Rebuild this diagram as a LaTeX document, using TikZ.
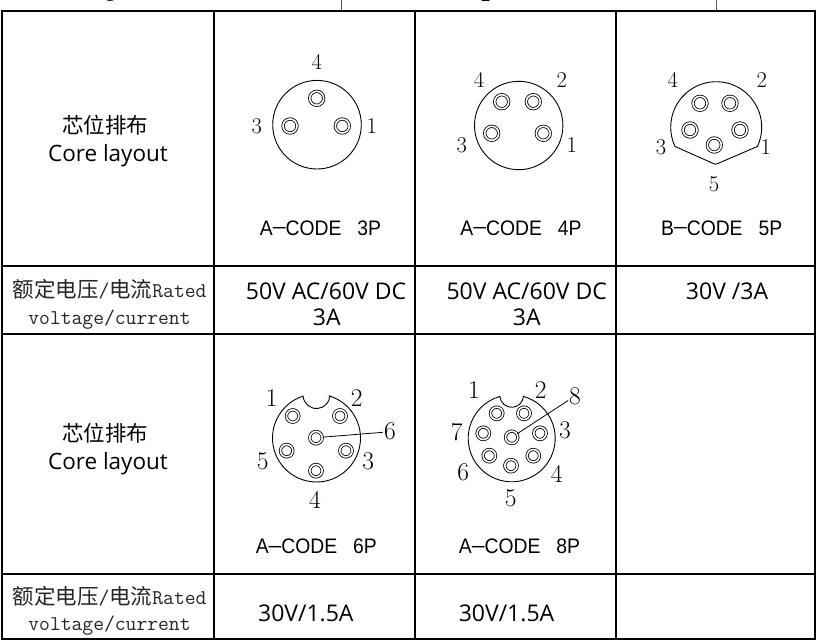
\documentclass[tikz,border=0pt]{standalone}
\usepackage{graphicx}
\usepackage{fontspec}
\newfontfamily\cjkf{Noto Sans CJK SC}
\newfontfamily\osf{Open Sans}
\newfontfamily\codef[FakeStretch=0.92]{Liberation Sans}
\newcommand{\myfs}[1]{\fontsize{#1}{#1}\selectfont}
\newcommand{\cdash}{\raisebox{0.06em}{\scalebox{0.66}[1]{—}}}
\begin{document}
\begin{tikzpicture}[x=1pt,y=-1pt,
  tbl/.style={line width=2pt, line cap=rect},
  faint/.style={line width=1pt, black!65},
  shell/.style={line width=0.9pt},
  pinA/.style={circle, draw, line width=0.8pt, double, double distance=1.6pt, minimum size=14pt, inner sep=0pt},
  pinB/.style={pinA, minimum size=12.4pt},
  numA/.style={font=\myfs{22.5}, inner sep=0pt},
  numB/.style={font=\myfs{25.5}, inner sep=0pt},
  code/.style={font=\codef\myfs{21}, anchor=base, inner sep=0pt},
  val/.style={font=\osf\myfs{23}, anchor=base, inner sep=0pt},
  hdr/.style={anchor=base, inner sep=0pt},
  hdrg/.style={hdr, text=black!85},
  lead/.style={line width=0.8pt, shorten >=1pt}]
\useasboundingbox (0,0) rectangle (816,642);
\clip (0,0) rectangle (816,642);

% partial top row
\draw[faint] (341,0) -- (341,11);
\draw[faint] (716,0) -- (716,11);
\node[font=\myfs{22}, inner sep=0pt, anchor=base] (t1) at (110,1.8) {1};
\node[font=\myfs{22}, inner sep=0pt, anchor=base] (t2) at (486,1.8) {2};

% table
\draw[tbl] (1.8,11) rectangle (814.5,639);
\draw[tbl] (214,11) -- (214,639);
\draw[tbl] (415,11) -- (415,639);
\draw[tbl] (616,11) -- (616,639);
\draw[tbl] (1.8,265.7) -- (814.5,265.7);
\draw[tbl] (1.8,334.3) -- (814.5,334.3);
\draw[tbl] (1.8,574) -- (814.5,574);

% left column
\node[hdr, font=\cjkf\myfs{21.5}] (h1a) at (105,133) {芯位排布};
\node[hdr, font=\osf\myfs{22.5}] (h1b) at (108,161) {Core layout};
\node[hdrg] (h2a) at (109.5,297) {{\cjkf\myfs{21.5}额定电压}{\ttfamily\myfs{21}/}{\cjkf\myfs{21.5}电流}{\ttfamily\myfs{21}Rated}};
\node[hdrg, font=\ttfamily\myfs{21}] (h2b) at (109.5,324) {voltage/current};
\node[hdr, font=\cjkf\myfs{21.5}] (h3a) at (105,441) {芯位排布};
\node[hdr, font=\osf\myfs{22.5}] (h3b) at (108,469) {Core layout};
\node[hdrg] (h4a) at (109.5,604) {{\cjkf\myfs{21.5}额定电压}{\ttfamily\myfs{21}/}{\cjkf\myfs{21.5}电流}{\ttfamily\myfs{21}Rated}};
\node[hdrg, font=\ttfamily\myfs{21}] (h4b) at (109.5,630) {voltage/current};

% 3P
\draw[shell] (317,124.7) circle (44.3);
\node[pinA] (a4) at (316.7,98.3) {};
\node[pinA] (a3) at (290,126) {};
\node[pinA] (a1) at (342.3,126) {};
\node[numA] (la4) at (316.7,62) {4};
\node[numA] (la3) at (256.7,126) {3};
\node[numA] (la1) at (371.7,126) {1};
\node[code] (c3) at (320.5,235) {A\cdash CODE\hspace{16pt}3P};

% 4P
\draw[shell] (518.7,125.5) circle (44.2);
\node[pinA] (b4) at (501.7,101.7) {};
\node[pinA] (b2) at (533.3,101.7) {};
\node[pinA] (b3) at (491.7,133.3) {};
\node[pinA] (b1) at (543.3,133.3) {};
\node[numA] (lb4) at (479,80) {4};
\node[numA] (lb2) at (561.7,80) {2};
\node[numA] (lb3) at (461.7,145) {3};
\node[numA] (lb1) at (571.7,145) {1};
\node[code] (c4) at (521,235) {A\cdash CODE\hspace{16pt}4P};

% 5P
\draw[shell] (716.2,127.2) ++(25:45.5) arc[start angle=25, end angle=-205, radius=45.5]
  -- (711.85,162.87) .. controls (715.5,164.5) .. (719.17,162.92) -- cycle;
\node[pinA] (e4) at (700,103.3) {};
\node[pinA] (e2) at (730,103.3) {};
\node[pinA] (e3) at (690,130) {};
\node[pinA] (e1) at (740,130) {};
\node[pinA] (e5) at (714.3,145) {};
\node[numA] (le4) at (672.7,80) {4};
\node[numA] (le2) at (761.7,80) {2};
\node[numA] (le3) at (661,147.3) {3};
\node[numA] (le1) at (765.7,147.3) {1};
\node[numA] (le5) at (714,184) {5};
\node[code] (c5) at (721.7,235) {B\cdash CODE\hspace{16pt}5P};

% values row 2
\node[val] (v3a) at (326,299) {50V AC/60V DC};
\node[val] (v3b) at (326.7,325.5) {3A};
\node[val] (v4a) at (526.7,299) {50V AC/60V DC};
\node[val] (v4b) at (526.7,325.5) {3A};
\node[val] (v5a) at (727,299) {30V /3A};

% 6P
\draw[shell] (316.5,438) ++(-72.2:44) arc[start angle=-72.2, end angle=252.2, radius=44]
  arc[start angle=175.3, end angle=4.7, radius=13.5] -- cycle;
\node[pinB] (f1) at (292.7,416) {};
\node[pinB] (f2) at (340,416) {};
\node[pinB] (f6) at (316,437.7) {};
\node[pinB] (f5) at (286.7,450.7) {};
\node[pinB] (f3) at (346,450.7) {};
\node[pinB] (f4) at (316,470.7) {};
\node[numB] (lf1) at (271.7,398.3) {1};
\node[numB] (lf2) at (356.7,398.3) {2};
\node[numB] (lf6) at (390,431.7) {6};
\node[numB] (lf5) at (262.7,461.7) {5};
\node[numB] (lf3) at (368.3,461.7) {3};
\node[numB] (lf4) at (315,500) {4};
\draw[lead] (f6) -- (lf6);
\node[code] (c6) at (316.3,553.5) {A\cdash CODE\hspace{16pt}6P};

% 8P
\draw[shell] (511.7,438.3) ++(-74.3:43.5) arc[start angle=-74.3, end angle=254.3, radius=43.5]
  arc[start angle=175.5, end angle=4.5, radius=11.8] -- cycle;
\node[pinB] (g1) at (496.7,413.3) {};
\node[pinB] (g2) at (524,413.3) {};
\node[pinB] (g7) at (483.3,433.3) {};
\node[pinB] (g8) at (511.7,437.3) {};
\node[pinB] (g3) at (540,433.3) {};
\node[pinB] (g6) at (489.3,455.7) {};
\node[pinB] (g5) at (511,465.7) {};
\node[pinB] (g4) at (533.3,455.7) {};
\node[numB] (lg1) at (474,390) {1};
\node[numB] (lg2) at (540.7,390) {2};
\node[numB] (lg8) at (575,396) {8};
\node[numB] (lg7) at (456.7,432.3) {7};
\node[numB] (lg3) at (565,430.7) {3};
\node[numB] (lg6) at (463.3,472.3) {6};
\node[numB] (lg4) at (556.7,474) {4};
\node[numB] (lg5) at (510.7,498.3) {5};
\draw[lead] (g8) -- (lg8);
\node[code] (c8) at (519.5,553.5) {A\cdash CODE\hspace{16pt}8P};

% values row 4
\node[val] (v6) at (305.8,621.5) {30V/1.5A};
\node[val] (v8) at (506.5,621.5) {30V/1.5A};
\end{tikzpicture}
\end{document}
